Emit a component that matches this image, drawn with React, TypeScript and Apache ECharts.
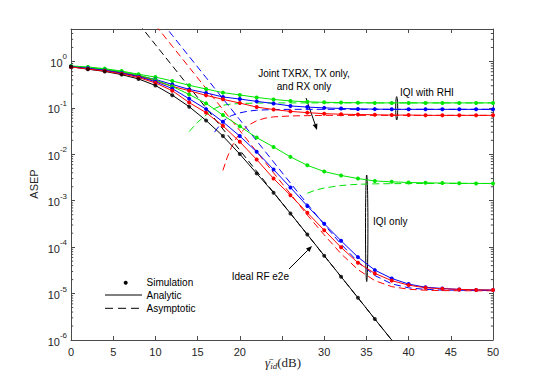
import React, { useEffect, useRef } from 'react';
import * as echarts from 'echarts';

// ---------- data (ASEP values) ----------
const snr = [0, 2, 4, 6, 8, 10, 12, 14, 16, 18, 20, 22, 24, 26, 28, 30, 32, 34, 36, 38, 40, 42, 44, 46, 48, 50];

const idealSnr = [0, 2, 4, 6, 8, 10, 12, 14, 16, 18, 20, 22, 24, 26, 28, 30, 32, 34, 36, 38, 40];
const idealAnalytic = [0.77, 0.68, 0.61, 0.52, 0.42, 0.304, 0.188, 0.106, 0.0537, 0.0247, 0.0101, 3.88e-3, 1.49e-3, 5.33e-4, 1.88e-4, 6.55e-5, 2.31e-5, 8.15e-6, 2.83e-6, 1.0e-6, 3.5e-7];
const idealSimSnr = [0, 2, 4, 6, 8, 10, 12, 14, 16, 18, 20, 22, 24, 26, 28, 30, 32, 34, 36];
const idealSim = [0.77, 0.68, 0.61, 0.52, 0.42, 0.304, 0.188, 0.106, 0.0537, 0.0247, 0.0101, 3.88e-3, 1.49e-3, 5.33e-4, 1.88e-4, 6.55e-5, 2.31e-5, 8.15e-6, 2.83e-6];
const idealAsymSnr = [8, 10, 12, 14, 16, 18, 20, 22, 24, 26, 28, 30, 32, 34, 36, 38, 40];
const idealAsym = [6.56, 2.3, 0.807, 0.284, 0.0996, 0.035, 0.01228, 4.31e-3, 1.51e-3, 5.31e-4, 1.86e-4, 6.55e-5, 2.3e-5, 8.07e-6, 2.83e-6, 9.95e-7, 3.49e-7];

// IQI with RHI (analytic = simulation)
const greenRHI = [0.8, 0.76, 0.7, 0.62, 0.53, 0.46, 0.38, 0.306, 0.255, 0.213, 0.19, 0.168, 0.152, 0.141, 0.135, 0.132, 0.13, 0.129, 0.128, 0.128, 0.128, 0.128, 0.128, 0.128, 0.128, 0.128];
const blueRHI = [0.78, 0.72, 0.66, 0.58, 0.49, 0.41, 0.32, 0.25, 0.21, 0.172, 0.155, 0.138, 0.124, 0.11, 0.104, 0.1, 0.097, 0.095, 0.094, 0.093, 0.093, 0.093, 0.093, 0.093, 0.093, 0.093];
const redRHI = [0.76, 0.7, 0.64, 0.57, 0.485, 0.38, 0.29, 0.235, 0.186, 0.153, 0.127, 0.104, 0.092, 0.084, 0.079, 0.075, 0.073, 0.072, 0.071, 0.07, 0.07, 0.069, 0.069, 0.069, 0.069, 0.069];

// IQI only
const greenIQI = [0.79, 0.74, 0.68, 0.6, 0.51, 0.4, 0.29, 0.195, 0.125, 0.07, 0.04, 0.0229, 0.0144, 8.8e-3, 5.8e-3, 4.25e-3, 3.5e-3, 3.0e-3, 2.67e-3, 2.55e-3, 2.47e-3, 2.43e-3, 2.4e-3, 2.38e-3, 2.36e-3, 2.35e-3];
const blueIQI = [0.77, 0.71, 0.64, 0.56, 0.47, 0.365, 0.26, 0.157, 0.094, 0.05, 0.0247, 0.0113, 4.7e-3, 1.93e-3, 7.7e-4, 3.2e-4, 1.37e-4, 6.1e-5, 3.2e-5, 2.12e-5, 1.6e-5, 1.37e-5, 1.29e-5, 1.23e-5, 1.2e-5, 1.19e-5];
const redIQI = [0.76, 0.69, 0.62, 0.54, 0.45, 0.345, 0.235, 0.13, 0.079, 0.041, 0.0186, 7.7e-3, 3.0e-3, 1.31e-3, 5.5e-4, 2.32e-4, 9.9e-5, 4.6e-5, 2.72e-5, 1.9e-5, 1.52e-5, 1.33e-5, 1.27e-5, 1.23e-5, 1.2e-5, 1.19e-5];

// Asymptotic curves
const greenRHIAsymSnr = [14, 15, 16, 17, 18, 19, 20, 22, 24, 26, 30, 35, 40, 45, 50];
const greenRHIAsym = [0.031, 0.049, 0.07, 0.097, 0.114, 0.121, 0.124, 0.127, 0.128, 0.128, 0.128, 0.128, 0.128, 0.128, 0.128];
const blueRHIAsymSnr = [17, 18, 19, 20, 21, 22, 24, 26, 30, 35, 40, 45, 50];
const blueRHIAsym = [0.03, 0.052, 0.068, 0.078, 0.085, 0.089, 0.092, 0.093, 0.093, 0.093, 0.093, 0.093, 0.093];
const redRHIAsymSnr = [18, 18.5, 19, 19.5, 20, 21, 22, 23, 24, 26, 28, 30, 35, 40, 45, 50];
const redRHIAsym = [0.0045, 0.0085, 0.014, 0.021, 0.028, 0.042, 0.053, 0.06, 0.064, 0.067, 0.068, 0.069, 0.069, 0.069, 0.069, 0.069];
const greenIQIAsymSnr = [28, 29, 30, 31, 32, 33, 34, 36, 38, 40, 42, 44, 46, 48, 50];
const greenIQIAsym = [1.45e-3, 1.7e-3, 1.88e-3, 2.0e-3, 2.12e-3, 2.2e-3, 2.26e-3, 2.31e-3, 2.33e-3, 2.34e-3, 2.35e-3, 2.35e-3, 2.35e-3, 2.35e-3, 2.35e-3];
const blueIQIAsymSnr = [10, 12, 14, 16, 18, 20, 22, 24, 26, 28, 30, 32, 34, 36, 38, 40, 42, 44, 46, 48, 50];
const blueIQIAsym = [10.4, 3.66, 1.28, 0.45, 0.158, 0.0555, 0.0195, 6.84e-3, 2.4e-3, 8.5e-4, 3.08e-4, 1.16e-4, 4.82e-5, 2.45e-5, 1.62e-5, 1.33e-5, 1.23e-5, 1.19e-5, 1.18e-5, 1.17e-5, 1.17e-5];
const redIQIAsymSnr = [10, 12, 14, 16, 18, 20, 22, 24, 26, 28, 30, 32, 34, 36, 38, 40, 42, 44, 46, 48, 50];
const redIQIAsym = [6.07, 2.13, 0.748, 0.262, 0.0922, 0.0324, 0.01137, 3.99e-3, 1.4e-3, 4.92e-4, 1.84e-4, 7.2e-5, 3.28e-5, 1.9e-5, 1.41e-5, 1.24e-5, 1.18e-5, 1.16e-5, 1.15e-5, 1.15e-5, 1.15e-5];

// axis settings
const xTicks = [0, 5, 10, 15, 20, 25, 30, 35, 40, 45, 50];
const yMinExp = -6;
const yMaxValue = 5;

const GREEN = '#00e600';
const BLUE = '#0000ff';
const RED = '#ff0000';
const BLACK = '#000000';
const AXIS = '#4a4a4a';
const TXT = '#262626';
const SANS = 'Liberation Sans, Arial, sans-serif';
const SERIF = 'Liberation Serif, Times New Roman, serif';

const toPts = (xs: number[], ys: number[]) => xs.map((x, i) => [x, Math.log10(ys[i])]);

export default function App() {
  const ref = useRef<HTMLDivElement>(null);

  useEffect(() => {
    if (!ref.current) return;
    const chart = echarts.init(ref.current, null, { renderer: 'svg' });
    const yMax = Math.log10(yMaxValue);

    // minor tick positions of a log axis (2..9 x 10^n)
    const minor: number[][] = [];
    for (let n = yMinExp; n <= 0; n++) {
      for (let m = 2; m <= 9; m++) {
        const v = n + Math.log10(m);
        if (v < yMax - 1e-9) minor.push([0, v]);
      }
    }

    const analytic = (name: string, data: number[], color: string) => ({
      name,
      type: 'line',
      data: toPts(snr, data),
      showSymbol: true,
      symbol: 'circle',
      symbolSize: 4,
      lineStyle: { color, width: 1 },
      itemStyle: { color },
      clip: true,
      z: 3,
    });
    const asym = (name: string, xs: number[], data: number[], color: string) => ({
      name,
      type: 'line',
      data: toPts(xs, data),
      showSymbol: false,
      symbol: 'none',
      lineStyle: { color, width: 1, type: [7, 4] },
      itemStyle: { color },
      clip: true,
      z: 2,
    });

    const axisCommon = {
      type: 'value',
      axisLine: { show: true, onZero: false, lineStyle: { color: AXIS, width: 1 } },
      axisTick: { show: true, inside: true, length: 4, lineStyle: { color: AXIS, width: 1 } },
      splitLine: { show: false },
      minorTick: { show: false },
    };

    const option: any = {
      animation: false,
      backgroundColor: '#ffffff',
      grid: { left: 71, right: 52, top: 29, bottom: 42, outerBoundsMode: 'none' },
      xAxis: [
        {
          ...axisCommon,
          min: 0,
          max: 50,
          interval: 5,
          position: 'bottom',
          axisLabel: {
            show: true,
            color: TXT,
            fontSize: 11,
            fontFamily: SANS,
            margin: 6,
            formatter: (v: number) => (xTicks.includes(v) && v !== 25 ? String(v) : ''),
          },
        },
        {
          ...axisCommon,
          min: 0,
          max: 50,
          interval: 5,
          position: 'top',
          axisLabel: { show: false },
        },
      ],
      yAxis: [
        {
          ...axisCommon,
          min: yMinExp,
          max: yMax,
          interval: 1,
          position: 'left',
          axisLabel: {
            show: true,
            margin: 4,
            formatter: (v: number) => {
              const r = Math.round(v);
              if (Math.abs(v - r) > 1e-6) return '';
              return `{b|10}{e|${r}}`;
            },
            rich: {
              b: { fontSize: 11, fontFamily: SANS, color: TXT, lineHeight: 15, padding: [3, 0, 0, 0] },
              e: { fontSize: 8, fontFamily: SANS, color: TXT, lineHeight: 9, padding: [0, 0, 9, 0] },
            },
          },
        },
        {
          ...axisCommon,
          min: yMinExp,
          max: yMax,
          interval: 1,
          position: 'right',
          axisLabel: { show: false },
        },
      ],
      series: [
        {
          name: 'minorTicks',
          type: 'custom',
          silent: true,
          clip: false,
          z: 1,
          data: minor,
          renderItem: (_p: any, api: any) => {
            const yv = api.value(1);
            const pl = api.coord([0, yv]);
            const pr = api.coord([50, yv]);
            return {
              type: 'group',
              children: [
                { type: 'line', shape: { x1: pl[0], y1: pl[1], x2: pl[0] + 2.2, y2: pl[1] }, style: { stroke: AXIS, lineWidth: 1 } },
                { type: 'line', shape: { x1: pr[0] - 2.2, y1: pr[1], x2: pr[0], y2: pr[1] }, style: { stroke: AXIS, lineWidth: 1 } },
              ],
            };
          },
        },
        // Ideal RF e2e
        {
          name: 'Analytic',
          type: 'line',
          data: toPts(idealSnr, idealAnalytic),
          showSymbol: false,
          symbol: 'none',
          lineStyle: { color: BLACK, width: 1 },
          itemStyle: { color: BLACK },
          clip: true,
          z: 3,
        },
        {
          name: 'Simulation',
          type: 'scatter',
          data: toPts(idealSimSnr, idealSim),
          symbol: 'circle',
          symbolSize: 4,
          itemStyle: { color: BLACK },
          clip: true,
          z: 4,
        },
        asym('Asymptotic', idealAsymSnr, idealAsym, BLACK),
        // IQI with RHI
        analytic('Green RHI', greenRHI, GREEN),
        analytic('Blue RHI', blueRHI, BLUE),
        analytic('Red RHI', redRHI, RED),
        asym('Green RHI asym', greenRHIAsymSnr, greenRHIAsym, GREEN),
        asym('Blue RHI asym', blueRHIAsymSnr, blueRHIAsym, BLUE),
        asym('Red RHI asym', redRHIAsymSnr, redRHIAsym, RED),
        // IQI only
        analytic('Green IQI', greenIQI, GREEN),
        analytic('Blue IQI', blueIQI, BLUE),
        analytic('Red IQI', redIQI, RED),
        asym('Green IQI asym', greenIQIAsymSnr, greenIQIAsym, GREEN),
        asym('Blue IQI asym', blueIQIAsymSnr, blueIQIAsym, BLUE),
        asym('Red IQI asym', redIQIAsymSnr, redIQIAsym, RED),
      ],
      graphic: [
        // axis titles
        {
          type: 'text',
          x: 34,
          y: 184,
          rotation: Math.PI / 2,
          style: { text: 'ASEP', fontSize: 11, fontFamily: SANS, fill: TXT, align: 'center', verticalAlign: 'middle' },
        },
        {
          type: 'text',
          x: 283,
          y: 362,
          style: {
            text: '{g|γ̄}{s|id}{n|(dB)}',
            align: 'center',
            verticalAlign: 'middle',
            fill: TXT,
            rich: {
              g: { fontFamily: SERIF, fontStyle: 'italic', fontSize: 13, lineHeight: 16, fill: TXT },
              s: { fontFamily: SERIF, fontStyle: 'italic', fontSize: 9, lineHeight: 9, padding: [7, 0, 0, 0], fill: TXT },
              n: { fontFamily: SERIF, fontSize: 13, lineHeight: 16, fill: TXT },
            },
          },
        },
        // legend
        { type: 'circle', shape: { cx: 125.7, cy: 282.7, r: 2 }, style: { fill: BLACK } },
        { type: 'text', x: 146.5, y: 282.7, style: { text: 'Simulation', fontSize: 10, fontFamily: SANS, fill: BLACK, verticalAlign: 'middle' } },
        { type: 'line', shape: { x1: 105, y1: 295, x2: 142, y2: 295 }, style: { stroke: BLACK, lineWidth: 1 } },
        { type: 'text', x: 146.5, y: 295.5, style: { text: 'Analytic', fontSize: 10, fontFamily: SANS, fill: BLACK, verticalAlign: 'middle' } },
        { type: 'line', shape: { x1: 105, y1: 308.3, x2: 142, y2: 308.3 }, style: { stroke: BLACK, lineWidth: 1, lineDash: [8, 5] } },
        { type: 'text', x: 146.5, y: 308.3, style: { text: 'Asymptotic', fontSize: 10, fontFamily: SANS, fill: BLACK, verticalAlign: 'middle' } },
        // annotation: Joint TXRX ...
        {
          type: 'text',
          x: 304,
          y: 80,
          style: { text: 'Joint TXRX, TX only,\nand RX only', fontSize: 10, lineHeight: 12.5, fontFamily: SANS, fill: BLACK, align: 'center', verticalAlign: 'middle' },
        },
        { type: 'line', shape: { x1: 306, y1: 98, x2: 315.1, y2: 124.4 }, style: { stroke: BLACK, lineWidth: 1 } },
        { type: 'polygon', shape: { points: [[317, 130], [312.7, 125.1], [317.4, 123.5]] }, style: { fill: BLACK } },
        // IQI with RHI
        { type: 'text', x: 400, y: 92.7, style: { text: 'IQI with RHI', fontSize: 10, fontFamily: SANS, fill: BLACK, verticalAlign: 'middle' } },
        { type: 'ellipse', shape: { cx: 396.7, cy: 108.3, rx: 1, ry: 11.7 }, style: { fill: 'none', stroke: BLACK, lineWidth: 1 } },
        // IQI only
        { type: 'text', x: 373, y: 221, style: { text: 'IQI only', fontSize: 10, fontFamily: SANS, fill: BLACK, verticalAlign: 'middle' } },
        { type: 'ellipse', shape: { cx: 366.7, cy: 228.3, rx: 1.2, ry: 53.3 }, style: { fill: 'none', stroke: BLACK, lineWidth: 1 } },
        // Ideal RF e2e
        { type: 'text', x: 231.7, y: 276.7, style: { text: 'Ideal RF e2e', fontSize: 10, fontFamily: SANS, fill: BLACK, verticalAlign: 'middle' } },
        { type: 'line', shape: { x1: 289, y1: 269, x2: 307.8, y2: 250.2 }, style: { stroke: BLACK, lineWidth: 1 } },
        { type: 'polygon', shape: { points: [[312, 246], [309.5, 252], [306, 248.5]] }, style: { fill: BLACK } },
      ],
    };

    chart.setOption(option);
    return () => chart.dispose();
  }, []);

  return (
    <div
      ref={ref}
      style={{ position: 'fixed', left: 0, top: 0, width: 545, height: 382, background: '#ffffff' }}
    />
  );
}
